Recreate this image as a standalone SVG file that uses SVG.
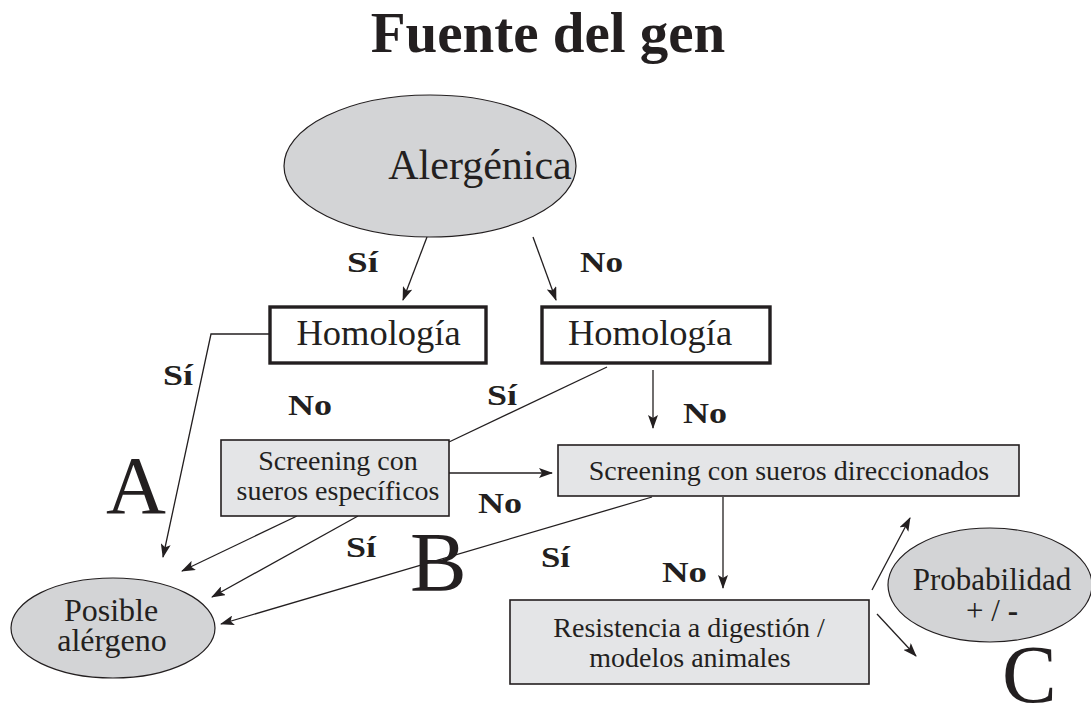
<svg xmlns="http://www.w3.org/2000/svg" width="1091" height="708" viewBox="0 0 1091 708">
<defs>
<style>
text{font-family:"Liberation Serif","Times New Roman",serif;fill:#231f20}
.t{text-anchor:middle}
.b{font-weight:bold;font-size:30px}
.big{font-size:85px}
.ell{fill:#d3d4d6;stroke:#231f20;stroke-width:1.2}
.box{fill:#e4e5e7;stroke:#231f20;stroke-width:1.6}
.hbox{fill:#fff;stroke:#231f20;stroke-width:3.4}
.c{fill:none;stroke:#231f20;stroke-width:1.3}
.a{marker-end:url(#ah)}
</style>
<marker id="ah" markerWidth="14" markerHeight="10" refX="13" refY="5" orient="auto" markerUnits="userSpaceOnUse">
<path d="M0,0 L14,5 L0,10 L3,5 Z" fill="#231f20"/>
</marker>
</defs>
<rect width="1091" height="708" fill="#fff"/>
<text class="t" x="548" y="52" style="font-size:57px;font-weight:bold">Fuente del gen</text>

<g id="connectors">
<line class="c a" x1="427" y1="237" x2="403" y2="300"/>
<line class="c a" x1="533" y1="237" x2="556" y2="300"/>
<polyline class="c a" points="270,334 211,334 163,557"/>
<line class="c" x1="607" y1="367" x2="449" y2="442"/>
<line class="c a" x1="653" y1="370" x2="653" y2="428"/>
<line class="c a" x1="449" y1="473" x2="552" y2="473"/>
<line class="c a" x1="297" y1="516" x2="182" y2="571"/>
<line class="c a" x1="358" y1="516" x2="212" y2="597"/>
<line class="c a" x1="652" y1="497" x2="221" y2="624"/>
<line class="c a" x1="723" y1="497" x2="723" y2="588"/>
<line class="c a" x1="872" y1="590" x2="910" y2="518"/>
<line class="c a" x1="877" y1="614" x2="916" y2="656"/>
</g>

<g id="alergenica">
<ellipse class="ell" cx="430" cy="166" rx="146" ry="71"/>
<text class="t" x="480" y="179" style="font-size:42px">Alergénica</text>
</g>
<g id="homologia1">
<rect class="hbox" x="270" y="307" width="216" height="56"/>
<text class="t" x="378.5" y="345" style="font-size:36.5px">Homología</text>
</g>
<g id="homologia2">
<rect class="hbox" x="542" y="307" width="228" height="56"/>
<text class="t" x="650" y="345" style="font-size:36.5px">Homología</text>
</g>
<g id="screening1">
<rect class="box" x="221" y="440" width="228" height="76"/>
<text class="t" x="338" y="470" style="font-size:28px">Screening con</text>
<text class="t" x="338" y="500" style="font-size:28px">sueros específicos</text>
</g>
<g id="screening2">
<rect class="box" x="558" y="445" width="461" height="51"/>
<text class="t" x="789" y="480" style="font-size:28px">Screening con sueros direccionados</text>
</g>
<g id="posible">
<ellipse class="ell" cx="113" cy="628" rx="102" ry="50"/>
<text class="t" x="111" y="621" style="font-size:32px">Posible</text>
<text class="t" x="112" y="651" style="font-size:32px">alérgeno</text>
</g>
<g id="resistencia">
<rect class="box" x="510" y="600" width="359" height="84"/>
<text class="t" x="689" y="637" style="font-size:28px">Resistencia a digestión /</text>
<text class="t" x="690" y="667" style="font-size:28px">modelos animales</text>
</g>
<g id="probabilidad">
<ellipse class="ell" cx="990" cy="585" rx="102" ry="57"/>
<text class="t" x="992" y="590" style="font-size:31px">Probabilidad</text>
<text class="t" x="992" y="621" style="font-size:31px">+ / <tspan style="font-weight:bold">-</tspan></text>
</g>

<g id="labels">
<text class="b" x="347" y="272" textLength="31" lengthAdjust="spacingAndGlyphs">Sí</text>
<text class="b" x="580" y="272" textLength="43" lengthAdjust="spacingAndGlyphs">No</text>
<text class="b" x="163" y="385" textLength="30" lengthAdjust="spacingAndGlyphs">Sí</text>
<text class="b" x="288" y="415" textLength="44" lengthAdjust="spacingAndGlyphs">No</text>
<text class="b" x="487" y="405" textLength="30" lengthAdjust="spacingAndGlyphs">Sí</text>
<text class="b" x="683" y="423" textLength="44" lengthAdjust="spacingAndGlyphs">No</text>
<text class="b" x="478" y="513" textLength="44" lengthAdjust="spacingAndGlyphs">No</text>
<text class="b" x="346" y="557" textLength="30" lengthAdjust="spacingAndGlyphs">Sí</text>
<text class="b" x="541" y="567" textLength="29" lengthAdjust="spacingAndGlyphs">Sí</text>
<text class="b" x="662" y="582" textLength="45" lengthAdjust="spacingAndGlyphs">No</text>
<text class="big" x="106" y="513" style="font-size:83px">A</text>
<text class="big" x="410" y="591">B</text>
<text class="big" x="1002" y="702" style="font-size:82px">C</text>
</g>
</svg>
